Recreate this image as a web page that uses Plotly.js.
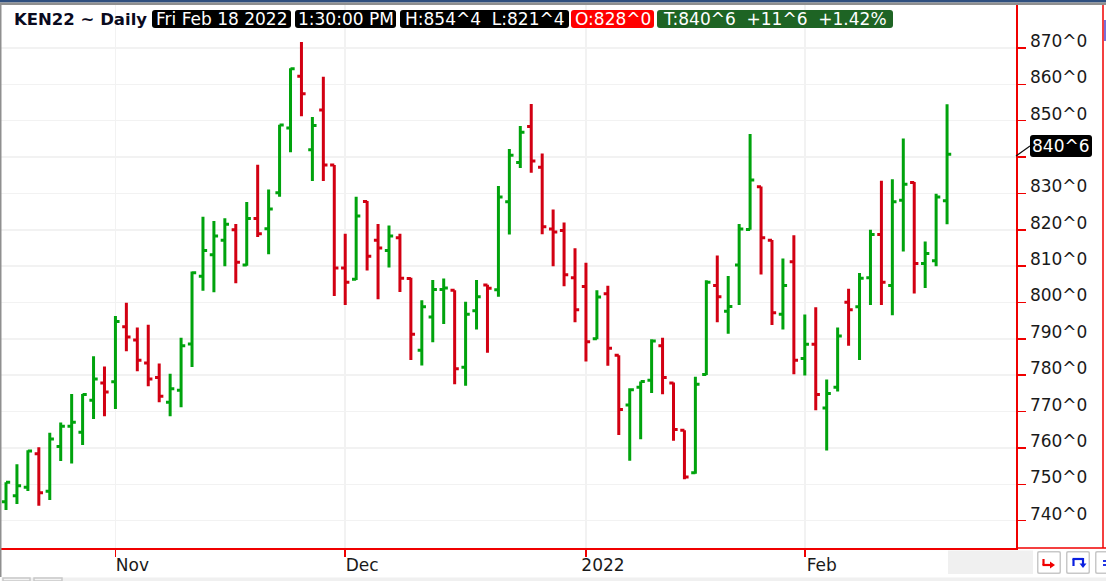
<!DOCTYPE html>
<html>
<head>
<meta charset="utf-8">
<script src="https://cdn.plot.ly/plotly-3.0.1.min.js"></script>
<style>html,body{margin:0;padding:0;background:#fff;overflow:hidden}#chart{width:1106px;height:581px}</style>
</head>
<body>
<div id="chart"></div>
<script>
const bars = [...Array(87).keys()];
const opens = [745.2,746.9,749.2,758.4,748.1,760.4,766,764.3,773.1,777.9,778.2,793.3,789.7,783.4,779.4,772.6,775.9,788.6,807.2,813.1,817.1,820,810.3,823.1,820.3,830.2,848,862.2,842,852.9,837.8,809.5,806.4,827.8,817.1,814.3,817.8,806.6,786.9,796,803.6,803.4,782.2,797.7,804.8,803.5,827.7,838.5,848.4,837.2,820.2,819.8,806.8,804.4,790,802.4,785.5,771.8,776.7,778.6,788.1,777.9,764.9,753.2,780.2,804.7,797.6,810.3,820.1,831.8,817.1,796.8,811.2,784.6,788.5,771,776.7,800.1,798.8,806.8,818.7,804.7,828.1,833,810.7,811.5,828];
const highs = [750.6,755.5,759.4,760.2,764.2,767,774.85,774.85,785.2,782.4,796.3,799.9,793.1,793.9,783.2,780.4,790.3,808.5,823.6,822.4,823.2,821.6,827.6,837.9,831.1,848.9,864.4,871.65,851,862.1,837.8,818.9,829.1,827.9,821.6,821.2,818.9,806.8,800.6,806.2,806.6,803.4,800.2,806.2,804.9,832,842.2,848.5,854.6,841,825.6,822,814.9,810.9,803.4,804.6,785.5,776.4,778.3,789.9,790.3,778,764.9,779.6,806.1,812.9,807.3,821.6,846.3,831.9,817.2,812.1,818.5,796.7,798.7,778.8,793.1,803.8,808.1,820,833.5,833.9,845.1,833.1,816.8,829.9,854.5];
const lows = [742.95,744.6,748.2,744.1,745.7,756.4,755.7,760.8,768,768.7,770.7,786.6,781.1,777,772.6,768.7,771.2,782.3,803.2,802.8,810,805.3,810.1,818,813.3,829.1,841.3,851.2,833.4,833.4,801.8,799.3,806.2,808.8,800.9,809.6,802.9,784.2,782.7,789.1,794.1,777.5,777.1,792.6,786.2,801.6,818.7,837,835.7,818.8,810,804.5,794.6,783.8,789.9,782.6,763.6,756.5,762.4,775.1,774.8,762,751.4,752.9,780.1,794.6,791.4,799.3,820,807.7,793.8,792.6,780.3,779.9,770.4,759.3,775.5,788.1,784.2,799.3,799.3,796.5,814,802.5,804,810,821.5];
const closes = [750.6,749.6,759.2,747.7,762.5,766,767.1,774.7,779,775.4,794.8,790.5,784.1,779,774.2,776.3,788.1,808.2,814.3,818.3,821.5,811.1,823.1,818.9,825.7,848.8,864.3,857.4,848.7,837.8,809.5,805.6,823.8,812.7,815,818.3,806.7,791.3,798.8,803.6,804,781.8,796.8,801.6,803.9,829,840.5,846.8,838.9,820.8,819.4,807.6,798,789.2,801.5,787.4,770.6,776,778.3,789.4,779.4,765.1,752,777.5,805.6,801.6,798.9,820.2,833.7,817.8,797.2,804.7,784.1,788.5,774.7,775,790.8,798,806.7,818.7,805.6,827.7,832.5,810.7,813.5,829,840.75];
const priceTicks = [870,860,850,840,830,820,810,800,790,780,770,760,750,740];
const priceLabels = ['870^0','860^0','850^0','','830^0','820^0','810^0','800^0','790^0','780^0','770^0','760^0','750^0','740^0'];
const monthTicks = [10,31,53,73];
const monthLabels = ['Nov','Dec','2022','Feb'];

const W = 1106, H = 581;
const M = {l:1,r:90,t:5,b:33};
const px = v => (v - M.l) / (W - M.l - M.r);
const py = v => 1 - (v - M.t) / (H - M.t - M.b);
const FONT = 'DejaVu Sans, Verdana, sans-serif';
const INK = '#1a1a1a';
const rect = (x0,y0,x1,y1,fill,line) => ({type:'rect',xref:'paper',yref:'paper',layer:'above',
  x0:px(x0),x1:px(x1),y0:py(y0),y1:py(y1),fillcolor:fill,line:{color:line||fill,width:line?1.5:0}});
const seg = (x0,y0,x1,y1,color,width) => ({type:'line',xref:'paper',yref:'paper',layer:'above',
  x0:px(x0),x1:px(x1),y0:py(y0),y1:py(y1),line:{color,width}});
const round = (x0,y0,x1,y1,fill,r) => ({type:'path',xref:'paper',yref:'paper',layer:'above',fillcolor:fill,line:{width:0},
  path:`M${px(x0+r)},${py(y0)} L${px(x1-r)},${py(y0)} Q${px(x1)},${py(y0)} ${px(x1)},${py(y0+r)} L${px(x1)},${py(y1-r)} Q${px(x1)},${py(y1)} ${px(x1-r)},${py(y1)} L${px(x0+r)},${py(y1)} Q${px(x0)},${py(y1)} ${px(x0)},${py(y1-r)} L${px(x0)},${py(y0+r)} Q${px(x0)},${py(y0)} ${px(x0+r)},${py(y0)} Z`});
const tri = (a,b,c,fill) => ({type:'path',xref:'paper',yref:'paper',layer:'above',fillcolor:fill,line:{width:0},
  path:`M${px(a[0])},${py(a[1])} L${px(b[0])},${py(b[1])} L${px(c[0])},${py(c[1])} Z`});
const label = (text,cx,cy,color,size,anchor) => ({xref:'paper',yref:'paper',x:px(cx),y:py(cy),xanchor:anchor||'center',yanchor:'middle',
  text,showarrow:false,borderpad:0,font:{family:FONT,size:size||17,color:color||'#ffffff'}});

const trace = {type:'ohlc',x:bars,open:opens,high:highs,low:lows,close:closes,tickwidth:0.38,
  increasing:{line:{color:'#00a30d',width:3}},decreasing:{line:{color:'#d20012',width:3}},hoverinfo:'skip'};

const layout = {
  width:W,height:H,showlegend:false,paper_bgcolor:'#ffffff',plot_bgcolor:'#ffffff',
  margin:M,dragmode:false,
  xaxis:{type:'linear',range:[-0.457,92.3],tickmode:'array',tickvals:monthTicks,ticktext:monthLabels,
    ticks:'outside',ticklen:7,tickcolor:'#f00000',tickwidth:1.5,showgrid:true,gridcolor:'#f2f2f2',gridwidth:1.5,
    zeroline:false,showline:true,linecolor:'#f00000',linewidth:1.5,rangeslider:{visible:false},
    tickfont:{family:FONT,size:17,color:INK},ticklabelshift:17,ticklabelstandoff:-6,fixedrange:true},
  yaxis:{type:'linear',side:'right',range:[732.5,881.8],tickmode:'array',tickvals:priceTicks,ticktext:priceLabels,
    ticks:'outside',ticklen:8,tickcolor:'#f00000',tickwidth:1.5,showgrid:true,gridcolor:'#f2f2f2',gridwidth:1.5,
    zeroline:false,showline:true,linecolor:'#f00000',linewidth:1.5,
    tickfont:{family:FONT,size:17,color:INK},ticklabelstandoff:1,ticklabelshift:-7,fixedrange:true},
  shapes:[
    rect(0,0,1106,2.5,'#2f4f7f'),
    rect(0,2.5,1106,5,'#8f8f8f'),
    rect(0,5,1.5,577,'#8f8f8f'),
    seg(1103,5,1103,548,'#f00000',1.5),
    seg(1016,548,1106,548,'#f00000',1.5),
    rect(1104,20,1106,41,'#7a6fd6'),
    seg(1016,156,1030,146,'#111111',1.2),
    round(152,10,291,28,'#000000',3),
    round(295,10,396,28,'#000000',3),
    round(400,10,569,28,'#000000',3),
    round(571,10,654,28,'#ff0000',3),
    round(657,10,893,28,'#1e6424',3),
    round(1030,135,1092,157,'#000000',3),
    rect(948,550.5,1033,574,'#f0f0f0'),
    round(1037,551,1061,574,'#c8c8c8',2), round(1038.5,552.5,1059.5,572.5,'#ffffff',1),
    round(1066,551,1090,574,'#c8c8c8',2), round(1067.5,552.5,1088.5,572.5,'#ffffff',1),
    round(1095,551,1110,574,'#c8c8c8',2), round(1096.5,552.5,1110,572.5,'#ffffff',1),
    rect(1.5,577.5,1106,581,'#f0f0f0'),
    rect(3,578,30,581,'#f4f4f4','#c8c8c8'),
    rect(34,578,62,581,'#f4f4f4','#c8c8c8'),
    seg(1043.5,559,1043.5,565,'#f00000',2.2),seg(1042.5,565,1051,565,'#f00000',2.2),tri([1050,561.5],[1055,565],[1050,568.5],'#f00000'),
    seg(1073.5,566,1073.5,559,'#0a1fe0',2.2),seg(1072.5,559,1083,559,'#0a1fe0',2.2),seg(1083,558,1083,564,'#0a1fe0',2.2),tri([1079.5,563.5],[1086.5,563.5],[1083,568],'#0a1fe0'),
    seg(1103,561,1106,561,'#0a1fe0',1.8),seg(1103,565,1106,565,'#0a1fe0',1.8)
  ],
  annotations:[
    label('<b>KEN22 ~ Daily</b>',13,19.5,'#0a0a1e',16.5,'left'),
    label('Fri Feb 18 2022',221.5,19.5),
    label('1:30:00 PM',345.5,19.5),
    label('H:854^4 \u00A0L:821^4',484.5,19.5),
    label('O:828^0',612.5,19.5),
    label('T:840^6 \u00A0+11^6 \u00A0+1.42%',775,19.5),
    label('840^6',1061,146)
  ]
};
Plotly.newPlot('chart',[trace],layout,{displayModeBar:false,staticPlot:true});
</script>
</body>
</html>
